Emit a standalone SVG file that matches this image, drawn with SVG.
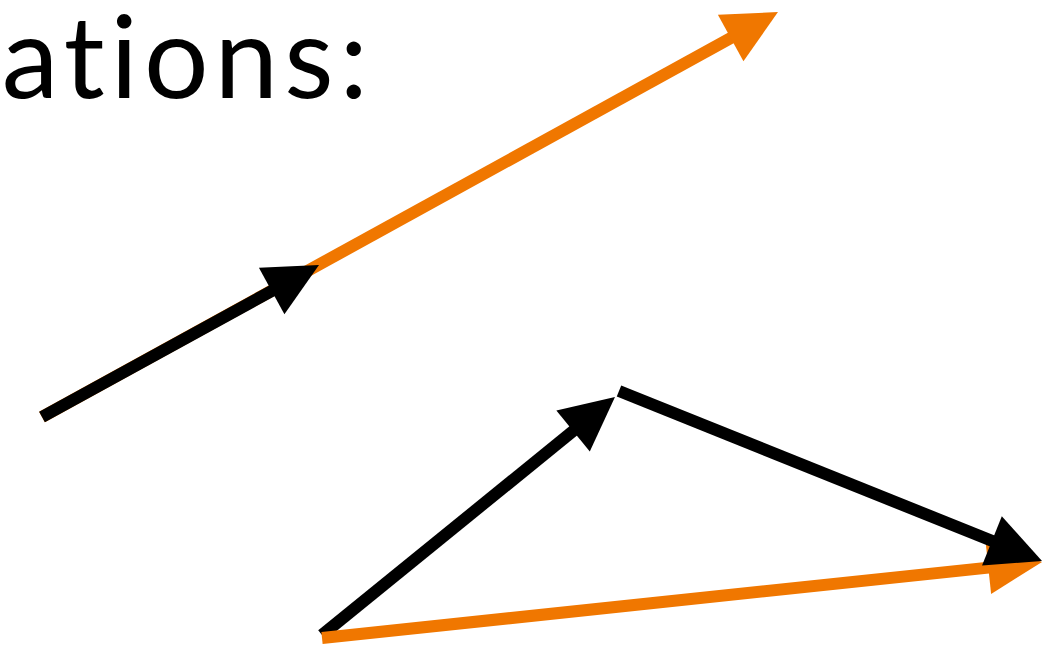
<svg xmlns="http://www.w3.org/2000/svg" width="1062" height="649" viewBox="0 0 1062 649">
<style>
.t{font-family:Lato,"Noto Sans","Liberation Sans",sans-serif;font-size:114px;fill:#000;letter-spacing:6px;font-variant-ligatures:none;font-feature-settings:"liga" 0}
.k{stroke:#000;stroke-width:12;fill:none}
.o{stroke:#F07700;stroke-width:12;fill:none}
</style>
<defs>
<marker id="hk" markerUnits="userSpaceOnUse" markerWidth="120" markerHeight="120" refX="0" refY="0" orient="auto" overflow="visible" viewBox="-60 -60 120 120">
<path d="M-24,-26.5 L30,0 L-24,26.5 Z" fill="#000"/>
</marker>
<marker id="ho" markerUnits="userSpaceOnUse" markerWidth="120" markerHeight="120" refX="0" refY="0" orient="auto" overflow="visible" viewBox="-60 -60 120 120">
<path d="M-24,-26.5 L30,0 L-24,26.5 Z" fill="#F07700"/>
</marker>
</defs>
<g id="title"><text class="t" x="374" y="98" text-anchor="end">vations:</text></g>
<g id="connectors">
<line id="o1" class="o" x1="42" y1="417" x2="751.7" y2="26.5" marker-end="url(#ho)"/>
<line id="k1" class="k" x1="42" y1="417" x2="292.7" y2="279.4" marker-end="url(#hk)"/>
<line id="k2" class="k" x1="322" y1="635" x2="591.7" y2="415.9" marker-end="url(#hk)"/>
<line id="o2" class="o" x1="322" y1="638" x2="1012.2" y2="565.1" marker-end="url(#ho)"/>
<line id="k3" class="k" x1="619" y1="391" x2="1014.2" y2="549.8" marker-end="url(#hk)"/>
</g>
</svg>
